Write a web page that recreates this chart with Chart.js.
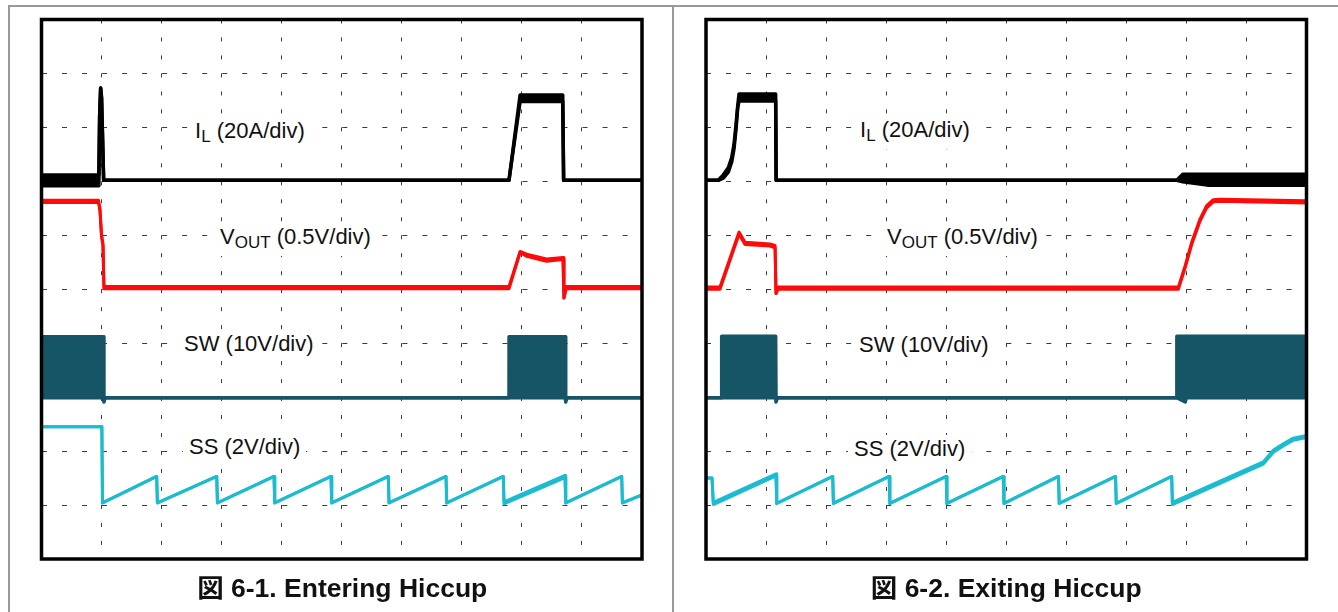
<!DOCTYPE html>
<html>
<head>
<meta charset="utf-8">
<script src="https://cdn.jsdelivr.net/npm/chart.js@4.4.1/dist/chart.umd.min.js"></script>
<style>
  html, body { margin: 0; padding: 0; background: #fff; }
  #page { position: relative; width: 1338px; height: 612px; overflow: hidden;
          font-family: "Liberation Sans", Arial, "Noto Sans CJK JP", sans-serif; }
  .plot { position: absolute; top: 0; }
  .rule { position: absolute; background: #999; z-index: 3; }
  .lbl { position: absolute; font-size: 22px; line-height: 22px; color: #111; white-space: nowrap; z-index: 2;
         background: #fff; padding: 3px 6px 5px 6px; }
  .lbl sub { font-size: 17px; line-height: 17px; vertical-align: -4px; }
  .cap { position: absolute; font-size: 25px; line-height: 25px; font-weight: bold; color: #111;
         text-align: center; white-space: nowrap; transform: scaleX(1.06); transform-origin: center; }
</style>
</head>
<body>
<div id="page">
  <div class="rule" style="left:8px;top:5px;width:1330px;height:2px"></div>
  <div class="rule" style="left:8px;top:5px;width:2px;height:607px"></div>
  <div class="rule" style="left:672px;top:5px;width:2px;height:607px"></div>

  <canvas id="entering" class="plot" width="669" height="612" style="left:0;width:669px;height:612px"></canvas>
  <canvas id="exiting" class="plot" width="669" height="612" style="left:669px;width:669px;height:612px"></canvas>

  <div class="lbl" style="left:189px;top:117px">I<sub>L</sub> (20A/div)</div>
  <div class="lbl" style="left:214px;top:223px">V<sub>OUT</sub> (0.5V/div)</div>
  <div class="lbl" style="left:178px;top:330px">SW (10V/div)</div>
  <div class="lbl" style="left:183px;top:433px">SS (2V/div)</div>

  <div class="lbl" style="left:854px;top:116px">I<sub>L</sub> (20A/div)</div>
  <div class="lbl" style="left:881px;top:223px">V<sub>OUT</sub> (0.5V/div)</div>
  <div class="lbl" style="left:853px;top:331px">SW (10V/div)</div>
  <div class="lbl" style="left:848px;top:435px">SS (2V/div)</div>

  <div class="cap" style="left:41.5px;width:600.5px;top:576px">図 6-1. Entering Hiccup</div>
  <div class="cap" style="left:706px;width:600.5px;top:576px">図 6-2. Exiting Hiccup</div>
</div>

<script>
// Scope graticule: 10 x 10 divisions. Time and level are in divisions.
// Each trace is stored as an envelope (max / min) so that switching ripple shows as a band.

// ---- Entering hiccup ----
const tIL1  = [0, 0.955, 0.968, 0.985, 1.000, 1.035, 7.785, 7.970, 8.680, 8.695, 10];
const il1Hi = [7.12, 7.12, 8.20, 8.73, 8.55, 7.02, 7.02, 8.60, 8.60, 7.02, 7.02];
const il1Lo = [6.92, 6.92, 8.20, 8.73, 8.55, 7.02, 7.02, 8.48, 8.48, 7.02, 7.02];

const tVO1  = [0, 0.949, 0.974, 0.999, 1.024, 1.040, 7.785, 7.970, 8.080, 8.410, 8.685, 8.700, 8.740, 10];
const vo1Hi = [6.65, 6.65, 6.49, 6.02, 5.84, 5.05, 5.05, 5.70, 5.65, 5.56, 5.59, 4.84, 5.05, 5.05];
const vo1Lo = [6.61, 6.61, 6.45, 5.98, 5.80, 5.01, 5.01, 5.68, 5.61, 5.52, 5.55, 4.84, 5.01, 5.01];

const tSW1  = [0, 1.030, 1.040, 1.060, 7.785, 7.786, 8.720, 8.730, 8.750, 10];
const sw1Hi = [4.12, 4.12, 2.99, 2.99, 2.99, 4.12, 4.12, 2.99, 2.99, 2.99];
const sw1Lo = [2.99, 2.99, 2.91, 2.99, 2.99, 2.99, 2.99, 2.91, 2.99, 2.99];

const tSS1  = [0, 1.005, 1.016, 1.918, 1.930, 2.918, 2.930, 3.872, 3.884, 4.821, 4.833,
               5.775, 5.787, 6.736, 6.748, 7.690, 7.702, 8.718, 8.730, 9.662, 9.674, 10];
const ss1Hi = [2.45, 2.45, 1.04, 1.53, 1.04, 1.53, 1.04, 1.53, 1.04, 1.53, 1.04,
               1.53, 1.04, 1.53, 1.04, 1.53, 1.06, 1.55, 1.04, 1.53, 1.04, 1.19];
const ss1Lo = [2.45, 2.45, 1.04, 1.53, 1.04, 1.53, 1.04, 1.53, 1.04, 1.53, 1.04,
               1.53, 1.04, 1.53, 1.04, 1.53, 1.02, 1.51, 1.04, 1.53, 1.04, 1.19];

// ---- Exiting hiccup ----
const tIL2  = [0, 0.205, 0.288, 0.371, 0.428, 0.466, 0.500, 0.528, 0.550, 1.160, 1.168, 7.840, 7.940, 8.350, 10];
const il2Hi = [7.02, 7.02, 7.12, 7.25, 7.44, 7.68, 8.05, 8.40, 8.62, 8.62, 7.02, 7.02, 7.13, 7.13, 7.13];
const il2Lo = [7.02, 7.02, 7.06, 7.17, 7.36, 7.60, 7.97, 8.36, 8.49, 8.49, 7.02, 7.02, 6.99, 6.93, 6.93];

const tVO2  = [0, 0.233, 0.550, 0.650, 1.066, 1.150, 1.166, 1.200, 7.866, 7.980, 8.088, 8.226, 8.337, 8.448, 8.560, 10];
const vo2Hi = [5.04, 5.04, 6.06, 5.87, 5.84, 5.81, 4.92, 5.04, 5.04, 5.44, 5.87, 6.30, 6.55, 6.66, 6.67, 6.64];
const vo2Lo = [5.00, 5.00, 6.02, 5.83, 5.80, 5.77, 4.92, 5.00, 5.00, 5.40, 5.83, 6.26, 6.51, 6.62, 6.63, 6.60];

const tSW2  = [0, 0.260, 0.261, 1.160, 1.166, 1.190, 7.840, 7.841, 7.980, 8.000, 10];
const sw2Hi = [2.99, 2.99, 4.13, 4.13, 2.99, 2.99, 2.99, 4.13, 4.13, 4.13, 4.13];
const sw2Lo = [2.99, 2.99, 2.99, 2.99, 2.91, 2.99, 2.99, 2.99, 2.91, 2.99, 2.99];

const tSS2  = [0, 0.100, 0.122, 1.166, 1.178, 2.110, 2.122, 3.050, 3.062, 4.000, 4.012,
               4.950, 4.962, 5.870, 5.882, 6.820, 6.832, 7.755, 7.767, 9.280, 9.450, 9.620, 9.780, 10];
const ss2Hi = [1.50, 1.50, 1.05, 1.58, 1.03, 1.53, 1.03, 1.53, 1.03, 1.53, 1.03,
               1.53, 1.03, 1.53, 1.03, 1.53, 1.03, 1.53, 1.05, 1.80, 2.02, 2.14, 2.24, 2.29];
const ss2Lo = [1.50, 1.50, 1.01, 1.54, 1.03, 1.53, 1.03, 1.53, 1.03, 1.53, 1.03,
               1.53, 1.03, 1.53, 1.03, 1.53, 1.03, 1.53, 1.01, 1.76, 1.98, 2.10, 2.20, 2.25];

const gridTicks = [0, 1, 2, 3, 4, 5, 6, 7, 8, 9, 10];

const COLOR_IL = '#000000';
const COLOR_VO = '#ff0a0a';
const COLOR_SW = '#155566';
const COLOR_SS = '#1bbccf';

function envelope(name, t, hi, lo, color, width) {
  const common = {
    borderColor: color, backgroundColor: color, borderWidth: width,
    pointRadius: 0, tension: 0, borderJoinStyle: 'round', borderCapStyle: 'butt'
  };
  return [
    Object.assign({ label: name, data: t.map((x, i) => ({ x: x, y: hi[i] })), fill: '+1' }, common),
    Object.assign({ label: name + ' min', data: t.map((x, i) => ({ x: x, y: lo[i] })), fill: false }, common)
  ];
}

const plotBorder = {
  id: 'plotBorder',
  afterDatasetsDraw(chart) {
    const { ctx, chartArea: a } = chart;
    ctx.save();
    ctx.strokeStyle = '#000';
    ctx.lineWidth = 3.5;
    ctx.strokeRect(a.left, a.top, a.right - a.left, a.bottom - a.top);
    ctx.restore();
  }
};

function axis(dash, horizontal) {
  return {
    type: 'linear', min: 0, max: 10,
    afterBuildTicks(scale) { scale.ticks = gridTicks.map(v => ({ value: v })); },
    afterFit(scale) { if (horizontal) scale.height = 0; else scale.width = 0; },
    ticks: { display: false },
    grid: { color: '#3c3c3c', lineWidth: 1, drawTicks: false, borderDash: dash },
    border: { display: false, dash: dash }
  };
}

function scope(id, padding, traces) {
  const datasets = [];
  traces.forEach(tr => envelope(...tr).forEach(d => datasets.push(d)));
  return new Chart(document.getElementById(id), {
    type: 'line',
    data: { datasets: datasets },
    options: {
      responsive: false,
      animation: false,
      devicePixelRatio: 1,
      layout: { padding: padding },
      plugins: { legend: { display: false }, tooltip: { enabled: false } },
      scales: { x: axis([4, 13.98], true), y: axis([5, 15.02], false) }
    },
    plugins: [plotBorder]
  });
}

scope('entering', { left: 41.5, top: 19.5, right: 27, bottom: 53 }, [
  ['IL', tIL1, il1Hi, il1Lo, COLOR_IL, 3.5],
  ['VOUT', tVO1, vo1Hi, vo1Lo, COLOR_VO, 3],
  ['SW', tSW1, sw1Hi, sw1Lo, COLOR_SW, 3.5],
  ['SS', tSS1, ss1Hi, ss1Lo, COLOR_SS, 3]
]);

scope('exiting', { left: 37, top: 19.5, right: 31.5, bottom: 53 }, [
  ['IL', tIL2, il2Hi, il2Lo, COLOR_IL, 3.5],
  ['VOUT', tVO2, vo2Hi, vo2Lo, COLOR_VO, 3],
  ['SW', tSW2, sw2Hi, sw2Lo, COLOR_SW, 3.5],
  ['SS', tSS2, ss2Hi, ss2Lo, COLOR_SS, 3]
]);
</script>
</body>
</html>
